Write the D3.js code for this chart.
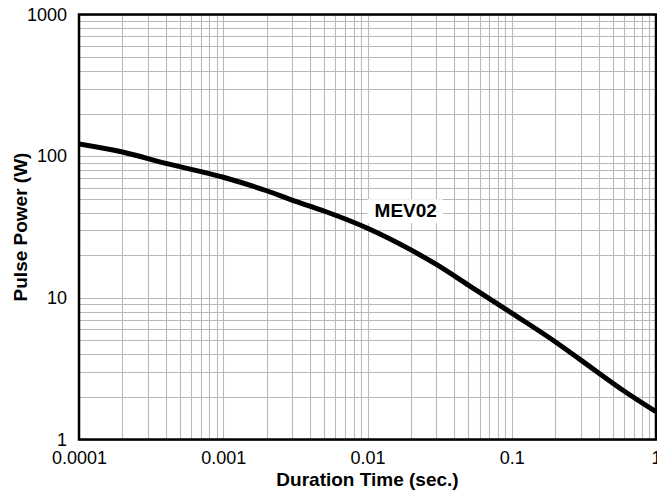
<!DOCTYPE html>
<html>
<head>
<meta charset="utf-8">
<script src="https://cdn.jsdelivr.net/npm/d3@7"></script>
<style>
  html, body { margin: 0; padding: 0; background: #fff; }
  svg { display: block; }
  text { font-family: "Liberation Sans", Arial, Helvetica, sans-serif; fill: #000; }
</style>
</head>
<body>
<svg id="chart" width="657" height="495"></svg>
<script>
// ---- data ----
const durations = [0.0001, 0.0002, 0.0004, 0.001, 0.002, 0.003, 0.005, 0.01, 0.02, 0.03, 0.05, 0.1, 0.2, 0.3, 0.6, 1];
const pulsePower = [122, 107, 89, 71, 57, 49, 41, 31, 21.8, 17.2, 12.3, 7.8, 4.9, 3.65, 2.2, 1.57];
const seriesName = "MEV02";
const xTickValues = [0.0001, 0.001, 0.01, 0.1, 1];
const xTickLabels = ["0.0001", "0.001", "0.01", "0.1", "1"];
const yTickValues = [1, 10, 100, 1000];
const yTickLabels = ["1", "10", "100", "1000"];
const xTitle = "Duration Time (sec.)";
const yTitle = "Pulse Power (W)";

// ---- layout ----
const plotLeft = 79, plotRight = 656, plotTop = 14.5, plotBottom = 439.5;
const svg = d3.select("#chart");

const x = d3.scaleLog().domain([0.0001, 1]).range([plotLeft, plotRight]);
const y = d3.scaleLog().domain([1, 1000]).range([plotBottom, plotTop]);

// grid values
const xGrid = [];
for (let e = -4; e < 0; e++) for (let k = 1; k <= 9; k++) xGrid.push(k * Math.pow(10, e));
xGrid.push(1);
const yGrid = [];
for (let e = 0; e < 3; e++) for (let k = 1; k <= 9; k++) yGrid.push(k * Math.pow(10, e));
yGrid.push(1000);

const grid = svg.append("g").attr("stroke", "#b9b9bc").attr("stroke-width", 1.1);
grid.selectAll("line.v").data(xGrid).join("line")
  .attr("class", "v")
  .attr("x1", d => Math.round(x(d)) + 0.5).attr("x2", d => Math.round(x(d)) + 0.5)
  .attr("y1", plotTop).attr("y2", plotBottom);
grid.selectAll("line.h").data(yGrid).join("line")
  .attr("class", "h")
  .attr("y1", d => Math.round(y(d)) + 0.5).attr("y2", d => Math.round(y(d)) + 0.5)
  .attr("x1", plotLeft).attr("x2", plotRight);

// series label with white background
const labelG = svg.append("g");
const label = labelG.append("text")
  .attr("x", x(0.0112))
  .attr("y", y(31) - 11)
  .attr("font-size", 19)
  .attr("font-weight", "bold")
  .text(seriesName);
const bb = label.node().getBBox();
labelG.insert("rect", "text")
  .attr("x", bb.x - 7).attr("y", bb.y - 1)
  .attr("width", bb.width + 13).attr("height", bb.height + 3)
  .attr("fill", "#fff");

// curve
svg.append("defs").append("clipPath").attr("id", "clip")
  .append("rect").attr("x", plotLeft).attr("y", plotTop)
  .attr("width", plotRight - plotLeft).attr("height", plotBottom - plotTop);

const line = d3.line()
  .x((d, i) => x(durations[i]))
  .y(d => y(d))
  .curve(d3.curveMonotoneX);

svg.append("path")
  .datum(pulsePower)
  .attr("clip-path", "url(#clip)")
  .attr("d", line)
  .attr("fill", "none")
  .attr("stroke", "#000")
  .attr("stroke-width", 5);

// frame
svg.append("rect")
  .attr("x", plotLeft).attr("y", plotTop)
  .attr("width", plotRight - plotLeft).attr("height", plotBottom - plotTop)
  .attr("fill", "none").attr("stroke", "#000").attr("stroke-width", 2.5);

// axes
const xAxis = d3.axisBottom(x).tickValues(xTickValues)
  .tickFormat((d, i) => xTickLabels[i]).tickSize(0).tickPadding(11.5);
const gx = svg.append("g").attr("transform", `translate(0,${plotBottom})`).call(xAxis);
gx.select(".domain").remove();
gx.attr("font-family", null);
gx.selectAll("text").attr("font-size", 18).attr("fill", "#000");

const yAxis = d3.axisLeft(y).tickValues(yTickValues)
  .tickFormat((d, i) => yTickLabels[i]).tickSize(0).tickPadding(12);
const gy = svg.append("g").attr("transform", `translate(${plotLeft},0)`).call(yAxis);
gy.select(".domain").remove();
gy.attr("font-family", null);
gy.selectAll("text").attr("font-size", 18).attr("fill", "#000");

// titles
svg.append("text")
  .attr("x", (plotLeft + plotRight) / 2).attr("y", 485.5)
  .attr("text-anchor", "middle")
  .attr("font-size", 19).attr("font-weight", "bold")
  .text(xTitle);

svg.append("text")
  .attr("transform", `translate(26.5,${(plotTop + plotBottom) / 2}) rotate(-90)`)
  .attr("text-anchor", "middle")
  .attr("font-size", 19).attr("font-weight", "bold")
  .text(yTitle);
</script>
</body>
</html>
